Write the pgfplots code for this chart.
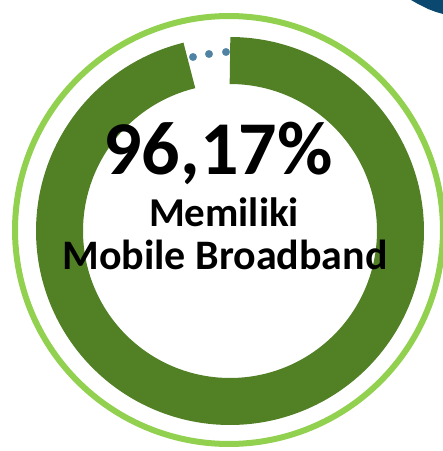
\documentclass[border=0pt]{standalone}
\usepackage{pgfplots}
\pgfplotsset{compat=1.18}
\usepackage{fontspec}
\setmainfont{Carlito}
\definecolor{ringgreen}{HTML}{518025}
\definecolor{lightgreen}{HTML}{92D050}
\definecolor{dotblue}{HTML}{4F82A3}
\definecolor{navy}{HTML}{0B4870}
\begin{document}
\begin{tikzpicture}
\begin{axis}[
  x=1pt, y=1pt,
  xmin=0, xmax=443, ymin=0, ymax=451,
  hide axis,
  clip=true,
]
\coordinate (SW) at (axis cs:0,0);
\coordinate (NE) at (axis cs:443,451);
% outer light green circle
\addplot[draw=lightgreen, line width=6pt, domain=0:360, samples=240] ({229+214*cos(x)},{221+214*sin(x)});
% donut ring: 96.17% of the circle, starting clockwise from the top
\addplot[draw=ringgreen, line width=47pt, line cap=butt, domain={90+(100-96.17)*3.6}:450, samples=240] ({230+170.5*cos(x)},{220+170.5*sin(x)});
% dots in the gap (3.83%)
\addplot[only marks, mark=*, mark size=3.7pt, color=dotblue] coordinates {(193,394) (209,397) (226,399)};
% navy corner shape
\addplot[fill=navy, draw=none] coordinates {(411,451) (418,447) (428,442) (436,439) (443,437) (443,451)} -- cycle;
\node[anchor=base, font=\bfseries\fontsize{76}{76}\selectfont] at (axis cs:218,276) {96,17\%};
\node[anchor=base, font=\bfseries\fontsize{41}{41}\selectfont] at (axis cs:224,224) {Memiliki};
\node[anchor=base, font=\bfseries\fontsize{42}{42}\selectfont] at (axis cs:225,181) {Mobile Broadband};
\end{axis}
\pgfresetboundingbox
\useasboundingbox (SW) rectangle (NE);
\end{tikzpicture}
\end{document}
